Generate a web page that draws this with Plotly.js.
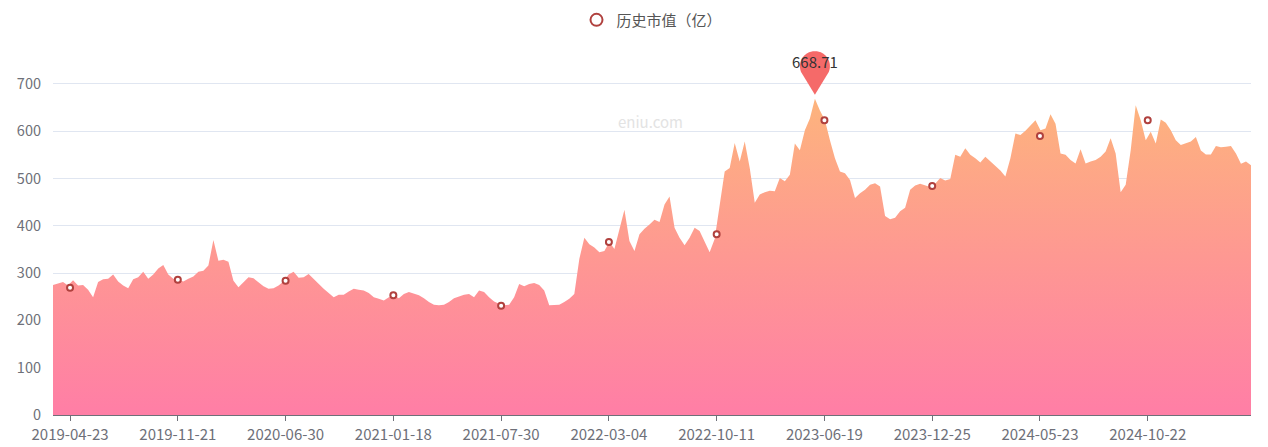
<!DOCTYPE html>
<html>
<head>
<meta charset="utf-8">
<script src="https://cdn.plot.ly/plotly-3.0.1.min.js"></script>
<style>
  html, body { margin: 0; padding: 0; background: #fff; }
  #chart { width: 1268px; height: 447px; }
</style>
</head>
<body>
<div id="chart"></div>
<script>
// ---- data ----
const seriesName = '历史市值（亿）';
const values = [
  275, 278, 281, 274, 285, 274, 275, 265, 249, 281,
  287, 288, 297, 282, 274, 268, 287, 291, 303, 288,
  297, 310, 317, 297, 288, 286, 282, 288, 293, 303,
  305, 316, 370, 326, 328, 324, 284, 270, 281, 291,
  289, 281, 272, 267, 268, 274, 282, 297, 303, 290,
  291, 298, 287, 277, 267, 258, 249, 254, 254, 261,
  267, 265, 263, 258, 249, 246, 242, 249, 253, 247,
  256, 260, 256, 253, 247, 239, 233, 232, 233, 239,
  247, 251, 254, 256, 249, 263, 260, 249, 240, 235,
  232, 233, 249, 277, 272, 277, 279, 275, 263, 232,
  232, 233, 239, 246, 256, 330, 375, 361, 354, 344,
  347, 366, 351, 392, 434, 368, 347, 382, 394, 403,
  413, 408, 445, 462, 396, 375, 359, 375, 396, 389,
  368, 344, 372, 442, 515, 522, 575, 536, 578, 522,
  449, 466, 471, 474, 473, 501, 494, 508, 574, 560,
  602, 627, 668.71, 644, 623, 581, 543, 515, 511, 497,
  459, 469, 476, 487, 490, 483, 421, 414, 417, 431,
  438, 476, 485, 489, 485, 482, 489, 501, 496, 499,
  550, 546, 564, 550, 543, 534, 546, 536, 527, 517,
  504, 543, 595, 592, 601, 611, 623, 602, 606, 636,
  616, 553, 550, 539, 532, 562, 532, 536, 539, 546,
  557, 585, 553, 471, 487, 560, 655, 623, 581, 599,
  574, 625, 618, 602, 581, 571, 574, 578, 588, 559,
  551, 551, 569, 566, 567, 569, 553, 531, 536, 528
];
const tickLabels = ['2019-04-23','2019-11-21','2020-06-30','2021-01-18','2021-07-30',
                    '2022-03-04','2022-10-11','2023-06-19','2023-12-25','2024-05-23','2024-10-22'];
const tickPositions = [3.4, 24.9, 46.4, 67.9, 89.4, 110.9, 132.4, 153.9, 175.4, 196.9, 218.4];
const symbolValues = [269, 286, 284, 253, 231, 366, 382, 623, 484, 590, 623];
const yTicks = [0, 100, 200, 300, 400, 500, 600, 700];

// ---- derived ----
const xIdx = values.map((_, i) => i);
const maxVal = Math.max(...values);
const maxIdx = values.indexOf(maxVal);

const FONT = '"Microsoft YaHei", "Noto Sans CJK SC", "Noto Sans", sans-serif';
const AXIS_COLOR = '#6e7079';
const SERIES_COLOR = '#b0413e';
const PIN_COLOR = '#f56a69';

// ECharts-like 'pin' outline, in pixels relative to the anchor (y axis pointing up)
function pinPath(size, lift) {
  const w = size / 5 * 3;
  const h = Math.max(w, size);
  const r = w / 2;
  const dy = r * r / (h - r);
  const C = h - r - dy + lift;     // circle centre above anchor
  const ang = Math.asin(dy / r);
  const n = 60;
  let d = 'M 0 ' + lift.toFixed(2);
  for (let k = 0; k <= n; k++) {
    const t = Math.PI + ang - (Math.PI + 2 * ang) * k / n;
    const px = r * Math.cos(t);
    const py = C + r * Math.sin(t);
    d += ' L ' + px.toFixed(2) + ' ' + py.toFixed(2);
  }
  d += ' Z';
  return d;
}

const areaTrace = {
  x: xIdx, y: values, type: 'scatter', mode: 'lines',
  fill: 'tozeroy',
  line: { width: 0, color: 'rgba(253,175,130,1)' },
  fillgradient: {
    type: 'vertical', start: 0, stop: maxVal,
    colorscale: [[0, 'rgb(255,126,166)'], [0.5, 'rgb(254,152,146)'], [1, 'rgb(253,180,125)']]
  },
  hoverinfo: 'skip', showlegend: false
};

const symbolTrace = {
  x: tickPositions, y: symbolValues, type: 'scatter', mode: 'markers',
  marker: { symbol: 'circle', size: 6, color: '#ffffff', line: { color: SERIES_COLOR, width: 2 } },
  showlegend: false, hoverinfo: 'skip'
};

const legendTrace = {
  x: [null], y: [null], type: 'scatter', mode: 'markers', name: seriesName,
  marker: { symbol: 'circle', size: 12, color: '#ffffff', line: { color: SERIES_COLOR, width: 2 } },
  showlegend: true
};

const layout = {
  width: 1268, height: 447,
  margin: { l: 53, r: 17, t: 32, b: 32, pad: 0 },
  paper_bgcolor: '#ffffff', plot_bgcolor: '#ffffff',
  font: { family: FONT, color: AXIS_COLOR, size: 15 },
  showlegend: true,
  legend: {
    orientation: 'h', xref: 'paper', yref: 'container',
    x: 0.5, xanchor: 'center', y: 0.955, yanchor: 'middle',
    font: { family: FONT, size: 15, color: '#555555' },
    itemsizing: 'trace'
  },
  xaxis: {
    type: 'linear', range: [0, values.length - 1],
    tickvals: tickPositions, ticktext: tickLabels,
    showgrid: false, zeroline: false,
    showline: true, linecolor: AXIS_COLOR, linewidth: 1,
    ticks: 'outside', ticklen: 5, tickcolor: AXIS_COLOR,
    ticklabelstandoff: 1,
    tickfont: { family: FONT, size: 15, color: AXIS_COLOR },
    fixedrange: true
  },
  yaxis: {
    range: [0, 800], tickvals: yTicks, ticktext: yTicks.map(String),
    showgrid: true, gridcolor: '#e0e6f1', gridwidth: 1,
    zeroline: false, showline: false, ticks: '',
    ticklabelstandoff: 11,
    tickfont: { family: FONT, size: 14.5, color: AXIS_COLOR },
    fixedrange: true
  },
  shapes: [{
    type: 'path', layer: 'above',
    xref: 'x', yref: 'y', xsizemode: 'pixel', ysizemode: 'pixel',
    xanchor: maxIdx, yanchor: maxVal,
    path: pinPath(50, 4),
    fillcolor: PIN_COLOR, line: { width: 0 }
  }],
  annotations: [
    {
      x: maxIdx, y: maxVal, xref: 'x', yref: 'y', showarrow: false,
      text: String(maxVal), yshift: 37,
      font: { family: FONT, size: 15, color: '#333333' }
    },
    {
      x: 0.499, y: 0.81, xref: 'paper', yref: 'paper', showarrow: false,
      text: 'eniu.com', font: { family: FONT, size: 15, color: '#e3e3e3' }
    }
  ]
};

Plotly.newPlot('chart', [areaTrace, symbolTrace, legendTrace], layout, { displayModeBar: false, staticPlot: true });
</script>
</body>
</html>
